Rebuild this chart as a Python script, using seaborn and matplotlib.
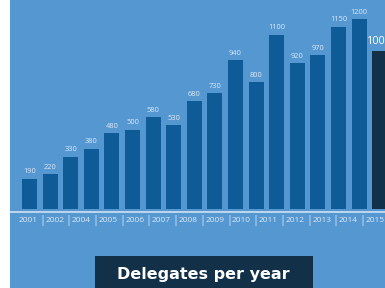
import matplotlib
matplotlib.use("Agg")
import matplotlib.pyplot as plt
import seaborn as sns
import pandas as pd
from matplotlib.patches import Rectangle
from matplotlib.lines import Line2D

# bar values as printed above each bar
values = [190, 220, 330, 380, 480, 500, 580, 530, 680, 730, 940, 800, 1100, 920, 970, 1150, 1200, 1000]
# year strip under the axis
year_labels = ['2001', '2002', '2004', '2005', '2006', '2007', '2008', '2009',
               '2010', '2011', '2012', '2013', '2014', '2015']
title = 'Delegates per year'

BG = '#5597d1'
BAR = '#0e5b97'
HILITE = '#133049'
LIGHT = '#dce9f6'

sns.set_theme(style='white')
plt.rcParams['font.family'] = ['Open Sans', 'DejaVu Sans']

W, H = 385, 288
fig = plt.figure(figsize=(W / 100, H / 100), dpi=100, facecolor='white')

# blue panel, leaving a thin white strip on the left
fig.add_artist(Rectangle((10 / W, 0), 1, 1, transform=fig.transFigure,
                         facecolor=BG, edgecolor='none', zorder=0))

df = pd.DataFrame({'idx': range(len(values)), 'value': values})
colors = [BAR] * (len(values) - 1) + [HILITE]

left_px, right_px = 19.2, 390.0
base_px, top_val = 209.0, 1320
ax = fig.add_axes([left_px / W, 1 - base_px / H, (right_px - left_px) / W, base_px / H])
ax.set_facecolor('none')
sns.barplot(data=df, x='idx', y='value', hue='idx', palette=colors, legend=False,
            width=0.73, saturation=1, edgecolor='none', linewidth=0, ax=ax)
ax.set_xlim(-0.5, len(values) - 0.5)
ax.set_ylim(0, top_val)
ax.axis('off')

for i, v in enumerate(values):
    last = i == len(values) - 1
    ax.annotate(str(v), (i, v), xytext=(0, 2.5), textcoords='offset points',
                ha='center', va='bottom',
                fontsize=7.8 if last else 5.4,
                color='white' if last else LIGHT)

# baseline
fig.add_artist(Line2D([10 / W, 1], [1 - 212 / H] * 2, transform=fig.transFigure,
                      color=LIGHT, lw=1.1))

# year labels with separators
for j, lab in enumerate(year_labels):
    cx = 28 + 26.7 * j
    fig.text(cx / W, 1 - 221 / H, lab, ha='center', va='center', fontsize=6, color=LIGHT)
    if j < len(year_labels) - 1:
        fig.text((cx + 14) / W, 1 - 220.5 / H, '|', ha='center', va='center',
                 fontsize=8, color=LIGHT)

# title box
fig.add_artist(Rectangle((95 / W, 0), (313 - 95) / W, 1 - 256 / H, transform=fig.transFigure,
                         facecolor=HILITE, edgecolor='none'))
fig.text(203 / W, 1 - 274 / H, title, ha='center', va='center', fontsize=11.5,
         fontweight='bold', color='white', family='DejaVu Sans')

fig.savefig('out.png', dpi=100, facecolor='white')
